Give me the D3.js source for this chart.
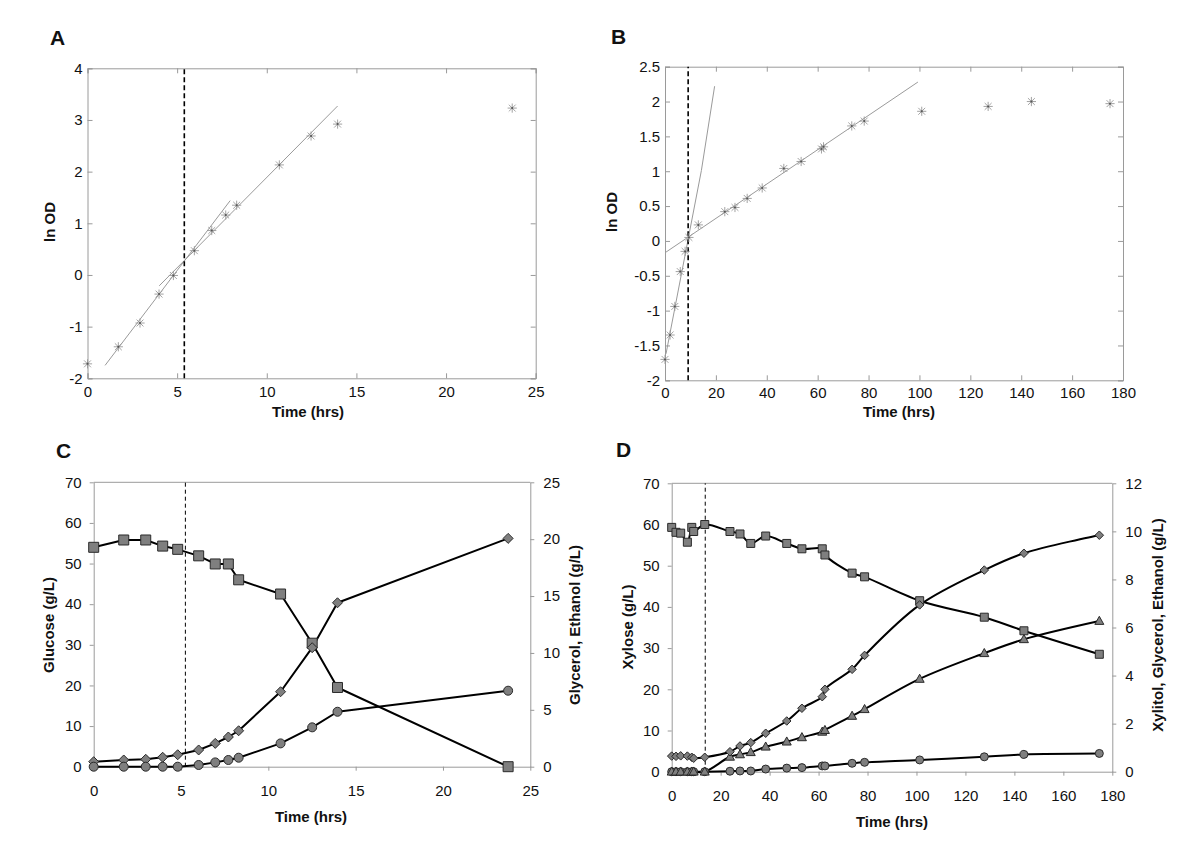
<!DOCTYPE html>
<html><head><meta charset="utf-8">
<script src="https://cdn.jsdelivr.net/npm/d3@7"></script>
<style>
body{margin:0;background:#fff}
svg{display:block}
text{font-family:"Liberation Sans",Arial,Helvetica,sans-serif}
</style>
</head><body>
<svg id="chart" width="1200" height="859"></svg>
<script>
// ---------- Panel A: ln OD vs time (glucose) ----------
const aTime = [0, 1.72, 2.93, 3.99, 4.79, 5.96, 6.93, 7.71, 8.32, 10.7, 12.47, 13.95, 23.69];
const aLnOD = [-1.72, -1.39, -0.93, -0.37, -0.01, 0.47, 0.86, 1.16, 1.35, 2.13, 2.69, 2.92, 3.23];
const aFit1T = [0.98, 7.96], aFit1V = [-1.75, 1.44];
const aFit2T = [4.0, 13.95], aFit2V = [-0.21, 3.27];
const aLag = 5.4;
const aXTicks = [0, 5, 10, 15, 20, 25];
const aYTicks = [-2, -1, 0, 1, 2, 3, 4];

// ---------- Panel B: ln OD vs time (xylose) ----------
const bTime = [0, 2.0, 3.86, 6.0, 7.9, 9.4, 13.1, 23.5, 27.5, 32.3, 38.2, 46.7, 53.5, 61.5, 62.3, 73.4, 78.3, 100.9, 127.0, 144.0, 174.9];
const bLnOD = [-1.70, -1.35, -0.94, -0.44, -0.15, 0.05, 0.23, 0.42, 0.48, 0.61, 0.76, 1.04, 1.14, 1.32, 1.35, 1.65, 1.72, 1.86, 1.93, 2.00, 1.97];
const bFit1T = [0.4, 14.3, 19.5], bFit1V = [-1.62, 1.01, 2.22];
const bFit2T = [0, 99.4], bFit2V = [-0.17, 2.28];
const bLag = 9.1;
const bXTicks = [0, 20, 40, 60, 80, 100, 120, 140, 160, 180];
const bYTicks = [-2, -1.5, -1, -0.5, 0, 0.5, 1, 1.5, 2, 2.5];

// ---------- Panel C: glucose fermentation ----------
const cTime = [0, 1.72, 2.98, 3.95, 4.81, 6.01, 6.96, 7.71, 8.3, 10.7, 12.51, 13.96, 23.73];
const cGlucose = [54.0, 55.8, 55.8, 54.3, 53.5, 51.9, 49.9, 49.9, 46.0, 42.5, 30.4, 19.5, 0];
const cEthanol = [0.44, 0.59, 0.65, 0.83, 1.05, 1.47, 2.05, 2.61, 3.16, 6.59, 10.46, 14.41, 20.07];
const cGlycerol = [0, 0, 0, 0, 0, 0.15, 0.38, 0.59, 0.79, 2.05, 3.46, 4.83, 6.68];
const cLag = 5.25;
const cXTicks = [0, 5, 10, 15, 20, 25];
const cYLTicks = [0, 10, 20, 30, 40, 50, 60, 70];
const cYRTicks = [0, 5, 10, 15, 20, 25];

// ---------- Panel D: xylose fermentation ----------
const dTime = [0, 1.76, 3.67, 6.4, 8.2, 8.98, 13.5, 23.8, 27.9, 32.3, 38.4, 47.0, 53.2, 61.5, 62.6, 73.7, 78.8, 101.3, 127.7, 143.9, 174.7];
const dXylose = [59.3, 58.1, 57.9, 55.7, 59.3, 58.3, 60.0, 58.3, 57.7, 55.4, 57.2, 55.4, 54.1, 54.1, 52.6, 48.2, 47.3, 41.5, 37.5, 34.2, 28.5];
const dEthanol = [0.65, 0.64, 0.66, 0.65, 0.60, 0.56, 0.60, 0.83, 1.07, 1.21, 1.60, 2.11, 2.64, 3.12, 3.43, 4.26, 4.84, 6.94, 8.39, 9.09, 9.84];
const dXylitol = [0, 0, 0, 0, 0, 0, 0, 0.62, 0.72, 0.81, 1.04, 1.25, 1.43, 1.66, 1.73, 2.32, 2.60, 3.86, 4.93, 5.51, 6.27];
const dGlycerol = [0, 0, 0, 0, 0, 0, 0, 0.02, 0.03, 0.03, 0.11, 0.15, 0.17, 0.24, 0.24, 0.35, 0.39, 0.49, 0.62, 0.72, 0.76];
const dLag = 13.7;
const dXTicks = [0, 20, 40, 60, 80, 100, 120, 140, 160, 180];
const dYLTicks = [0, 10, 20, 30, 40, 50, 60, 70];
const dYRTicks = [0, 2, 4, 6, 8, 10, 12];

const svg = d3.select("#chart");
const AXIS_GRAY = "#9a9a9a";
const zip = (a, b) => a.map((v, i) => [v, b[i]]);

function styleAxis(g, showText) {
  g.select(".domain").attr("stroke", AXIS_GRAY).attr("stroke-width", 1);
  g.selectAll(".tick line").attr("stroke", AXIS_GRAY);
  g.selectAll(".tick text").attr("fill", "#111").style("font-size", "15px")
    .style("font-family", '"Liberation Sans", Arial, sans-serif');
  if (!showText) g.selectAll(".tick text").remove();
}

function panelLetter(txt, x, y) {
  svg.append("text").attr("x", x).attr("y", y).text(txt)
    .style("font-size", "21px").style("font-weight", "bold").attr("fill", "#111");
}
function xTitle(txt, cx, y) {
  svg.append("text").attr("x", cx).attr("y", y).attr("text-anchor", "middle").text(txt)
    .style("font-size", "15px").style("font-weight", "bold").attr("fill", "#111");
}
function yTitle(txt, cx, cy) {
  svg.append("text").attr("transform", `translate(${cx},${cy}) rotate(-90)`)
    .attr("text-anchor", "middle").attr("dy", "0.36em").text(txt)
    .style("font-size", "15px").style("font-weight", "bold").attr("fill", "#111");
}

function asterisk(g, x, y, ts, vs) {
  const r = 4.6, d = r * 0.75;
  const p = `M${-d},${-d}L${d},${d}M${-d},${d}L${d},${-d}M0,${-r}L0,${r}M${-r},0L${r},0`;
  g.selectAll(null).data(zip(ts, vs)).join("path")
    .attr("transform", d0 => `translate(${x(d0[0])},${y(d0[1])})`)
    .attr("d", p).attr("fill", "none").attr("stroke", "#999").attr("stroke-width", 0.9);
  g.selectAll(null).data(zip(ts, vs)).join("circle")
    .attr("cx", d0 => x(d0[0])).attr("cy", d0 => y(d0[1])).attr("r", 1).attr("fill", "#555");
}

function odPanel(o) {
  const x = d3.scaleLinear().domain(o.xd).range(o.xr);
  const y = d3.scaleLinear().domain(o.yd).range(o.yr);
  const g = svg.append("g");
  const [x0, x1] = o.xr, [y0, y1] = o.yr;
  g.append("g").attr("transform", `translate(0,${y0})`)
    .call(d3.axisBottom(x).tickValues(o.xt).tickSize(-5).tickPadding(o.xpad).tickFormat(String))
    .call(a => styleAxis(a, true));
  g.append("g").attr("transform", `translate(0,${y1})`)
    .call(d3.axisTop(x).tickValues(o.xt).tickSize(-5)).call(a => styleAxis(a, false));
  g.append("g").attr("transform", `translate(${x0},0)`)
    .call(d3.axisLeft(y).tickValues(o.yt).tickSize(-5).tickPadding(5).tickFormat(String))
    .call(a => styleAxis(a, true));
  g.append("g").attr("transform", `translate(${x1},0)`)
    .call(d3.axisRight(y).tickValues(o.yt).tickSize(-5)).call(a => styleAxis(a, false));
  const line = d3.line().x(d => x(d[0])).y(d => y(d[1]));
  o.fits.forEach(f => {
    g.append("path").attr("d", line(zip(f[0], f[1]))).attr("fill", "none")
      .attr("stroke", "#9a9a9a").attr("stroke-width", 1);
  });
  g.append("line").attr("x1", x(o.lag)).attr("x2", x(o.lag)).attr("y1", y0).attr("y2", y1)
    .attr("stroke", "#000").attr("stroke-width", 1.6).attr("stroke-dasharray", "5,3");
  asterisk(g, x, y, o.t, o.v);
}

odPanel({xd: [0, 25], xr: [87.5, 535.7], yd: [-2, 4], yr: [378.3, 68.3], xt: aXTicks, yt: aYTicks, xpad: 8,
  fits: [[aFit1T, aFit1V], [aFit2T, aFit2V]], lag: aLag, t: aTime, v: aLnOD});
odPanel({xd: [0, 180], xr: [665, 1123], yd: [-2, 2.5], yr: [380.3, 66.7], xt: bXTicks, yt: bYTicks, xpad: 7.5,
  fits: [[bFit1T, bFit1V], [bFit2T, bFit2V]], lag: bLag, t: bTime, v: bLnOD});

panelLetter("A", 50, 45);
panelLetter("B", 611, 44);
yTitle("ln OD", 50, 222);
yTitle("ln OD", 612, 212);
xTitle("Time (hrs)", 308, 417);
xTitle("Time (hrs)", 899, 417);

// ---------- fermentation panels ----------
function marker(g, type, x, y, ts, vs, s) {
  const pts = zip(ts, vs);
  const sel = g.selectAll(null).data(pts).join(type === "circle" ? "circle" : "path");
  if (type === "circle") {
    sel.attr("cx", d => x(d[0])).attr("cy", d => y(d[1])).attr("r", s / 2);
  } else {
    let p;
    if (type === "square") { const h = s / 2; p = `M${-h},${-h}H${h}V${h}H${-h}Z`; }
    if (type === "diamond") { const h = s / 2; p = `M0,${-h}L${h},0L0,${h}L${-h},0Z`; }
    if (type === "triangle") { const h = s / 2; p = `M0,${-h * 1.05}L${h},${h * 0.75}L${-h},${h * 0.75}Z`; }
    sel.attr("d", p).attr("transform", d => `translate(${x(d[0])},${y(d[1])})`);
  }
  sel.attr("fill", "#7f7f7f").attr("stroke", "#2a2a2a").attr("stroke-width", 1);
}

function fermPanel(o) {
  const x = d3.scaleLinear().domain(o.xd).range(o.xr);
  const yL = d3.scaleLinear().domain(o.yLd).range(o.yr);
  const yR = d3.scaleLinear().domain(o.yRd).range(o.yr);
  const g = svg.append("g");
  const [x0, x1] = o.xr, [y0, y1] = o.yr;
  g.append("line").attr("x1", x0).attr("x2", x1).attr("y1", y1).attr("y2", y1).attr("stroke", AXIS_GRAY);
  g.append("g").attr("transform", `translate(0,${y0})`)
    .call(d3.axisBottom(x).tickValues(o.xt).tickSizeInner(4).tickSizeOuter(0).tickPadding(15).tickFormat(String))
    .call(a => styleAxis(a, true));
  g.append("g").attr("transform", `translate(${x0},0)`)
    .call(d3.axisLeft(yL).tickValues(o.yLt).tickSizeInner(4).tickSizeOuter(0).tickPadding(8).tickFormat(String))
    .call(a => styleAxis(a, true));
  g.append("g").attr("transform", `translate(${x1},0)`)
    .call(d3.axisRight(yR).tickValues(o.yRt).tickSizeInner(4).tickSizeOuter(0).tickPadding(9).tickFormat(String))
    .call(a => styleAxis(a, true));
  g.append("line").attr("x1", x(o.lag)).attr("x2", x(o.lag)).attr("y1", y0).attr("y2", y1)
    .attr("stroke", "#000").attr("stroke-width", 1).attr("stroke-dasharray", "4,3");
  o.series.forEach(s => {
    const yy = s.axis === "L" ? yL : yR;
    const line = d3.line().x(d => x(d[0])).y(d => yy(d[1])).curve(o.curve);
    g.append("path").attr("d", line(zip(o.t, s.v))).attr("fill", "none")
      .attr("stroke", "#000").attr("stroke-width", 2).attr("stroke-linejoin", "round");
  });
  o.series.forEach(s => {
    const yy = s.axis === "L" ? yL : yR;
    marker(g, s.m, x, yy, o.t, s.v, s.size);
  });
}

fermPanel({xd: [0, 25], xr: [93.7, 530.3], yLd: [0, 70], yRd: [0, 25], yr: [766.7, 482.3],
  xt: cXTicks, yLt: cYLTicks, yRt: cYRTicks, lag: cLag, t: cTime, curve: d3.curveLinear,
  series: [
    {v: cGlucose, axis: "L", m: "square", size: 10},
    {v: cEthanol, axis: "R", m: "diamond", size: 10},
    {v: cGlycerol, axis: "R", m: "circle", size: 9}
  ]});
fermPanel({xd: [0, 180], xr: [671.7, 1112.3], yLd: [0, 70], yRd: [0, 12], yr: [771.7, 483.3],
  xt: dXTicks, yLt: dYLTicks, yRt: dYRTicks, lag: dLag, t: dTime, curve: d3.curveCatmullRom.alpha(0.5),
  series: [
    {v: dXylose, axis: "L", m: "square", size: 8},
    {v: dGlycerol, axis: "R", m: "circle", size: 8},
    {v: dXylitol, axis: "R", m: "triangle", size: 9},
    {v: dEthanol, axis: "R", m: "diamond", size: 8.5}
  ]});

panelLetter("C", 56, 458);
panelLetter("D", 616, 457);
yTitle("Glucose (g/L)", 49, 625);
yTitle("Glycerol, Ethanol (g/L)", 575, 625);
yTitle("Xylose (g/L)", 628, 627);
yTitle("Xylitol, Glycerol, Ethanol (g/L)", 1158, 625);
xTitle("Time (hrs)", 311, 822);
xTitle("Time (hrs)", 892, 827);
</script>
</body></html>
